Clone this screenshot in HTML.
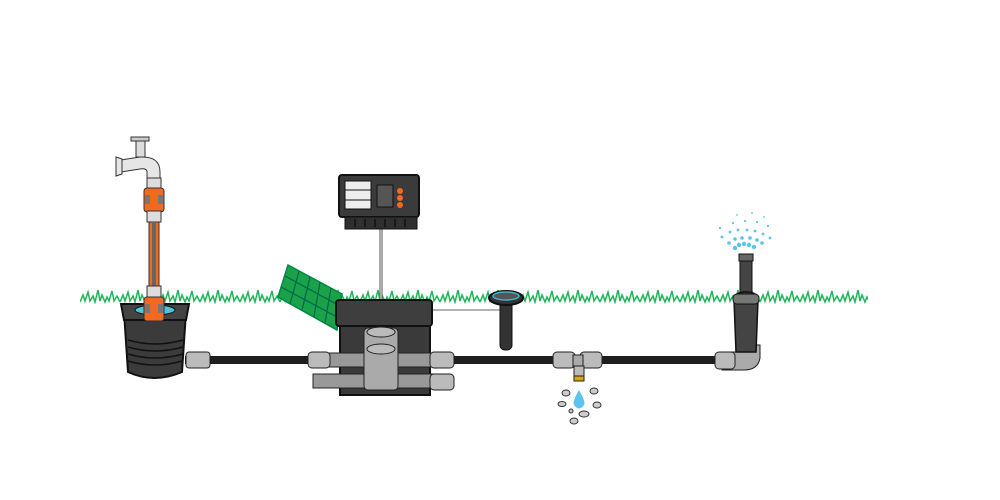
<!DOCTYPE html>
<html><head><meta charset="utf-8"><style>
html,body{margin:0;padding:0;background:#fff;width:1000px;height:500px;overflow:hidden}
svg{display:block}
</style></head><body>
<svg width="1000" height="500" viewBox="0 0 1000 500" xmlns="http://www.w3.org/2000/svg">
<defs>
<pattern id="grass" x="0" y="0" width="40" height="16" patternUnits="userSpaceOnUse">
<path d="M0 14 L3 7 L5 13 L8 4 L10 13 L13 8 L15 14 L18 2 L20 13 L22 7 L25 14 L27 9 L29 13 L32 3 L34 13 L37 8 L40 14" fill="none" stroke="#1fb35a" stroke-width="1.5"/>
</pattern>
</defs>
<!-- grass -->
<rect x="80" y="288" width="788" height="16" fill="url(#grass)"/>
<!-- wires -->
<line x1="381" y1="228" x2="381" y2="302" stroke="#555" stroke-width="3"/>
<line x1="381" y1="228" x2="381" y2="302" stroke="#fff" stroke-width="1"/>
<polyline points="432,310 500,310" fill="none" stroke="#999" stroke-width="1.5"/>
<!-- main pipe -->
<rect x="185" y="356" width="550" height="8" fill="#1e1e1e"/>
<!-- pit -->
<path d="M124 312 L186 312 L182 372 Q154 384 128 372 Z" fill="#3b3b3b" stroke="#111" stroke-width="2"/>
<g stroke="#111" stroke-width="1.5" fill="none">
<path d="M128 340 Q155 348 183 340"/><path d="M128 347 Q155 355 183 347"/><path d="M128 354 Q155 362 183 354"/><path d="M128 361 Q155 369 182 361"/>
</g>
<path d="M121 304 L189 304 L186 320 L124 320 Z" fill="#444" stroke="#111" stroke-width="2"/>
<ellipse cx="155" cy="310" rx="20" ry="5" fill="#4cc4dc" stroke="#111"/>
<!-- tap -->
<rect x="131" y="137" width="18" height="4" fill="#ccc" stroke="#333"/>
<rect x="136" y="141" width="9" height="16" fill="#ddd" stroke="#333"/>
<path d="M121 160 L140 157 Q160 156 160 172 L160 180 L147 180 L147 172 Q147 168 140 169 L121 172 Z" fill="#e6e6e6" stroke="#333"/>
<path d="M116 157 L122 159 L122 174 L116 176 Z" fill="#e6e6e6" stroke="#333"/>
<!-- hose -->
<rect x="147" y="178" width="14" height="12" fill="#ddd" stroke="#333"/>
<rect x="144" y="188" width="20" height="24" rx="3" fill="#f26a21" stroke="#333"/>
<rect x="145" y="195" width="5" height="9" fill="#777"/><rect x="158" y="195" width="5" height="9" fill="#777"/>
<rect x="147" y="211" width="14" height="11" fill="#ddd" stroke="#333"/>
<rect x="149" y="222" width="10" height="66" fill="#f26a21" stroke="#333"/>
<rect x="152" y="222" width="4" height="66" fill="#666"/>
<rect x="147" y="286" width="14" height="12" fill="#ddd" stroke="#333"/>
<rect x="144" y="297" width="20" height="24" rx="3" fill="#f26a21" stroke="#333"/>
<rect x="145" y="304" width="5" height="9" fill="#777"/><rect x="158" y="304" width="5" height="9" fill="#777"/>
<!-- fitting left -->
<rect x="186" y="352" width="24" height="16" rx="3" fill="#bbb" stroke="#222"/>
<!-- controller -->
<rect x="339" y="175" width="80" height="42" rx="3" fill="#3b3b3b" stroke="#111" stroke-width="2"/>
<rect x="345" y="181" width="26" height="28" fill="#eee" stroke="#111"/>
<line x1="345" y1="190" x2="371" y2="190" stroke="#111"/><line x1="345" y1="200" x2="371" y2="200" stroke="#111"/>
<rect x="377" y="185" width="16" height="22" fill="#555" stroke="#111"/>
<circle cx="400" cy="191" r="3" fill="#f26a21"/><circle cx="400" cy="198" r="3" fill="#f26a21"/><circle cx="400" cy="205" r="3" fill="#f26a21"/>
<rect x="345" y="217" width="72" height="12" fill="#2f2f2f" stroke="#111"/>
<g stroke="#111" stroke-width="1.5"><line x1="355" y1="219" x2="355" y2="227"/><line x1="365" y1="219" x2="365" y2="227"/><line x1="375" y1="219" x2="375" y2="227"/><line x1="385" y1="219" x2="385" y2="227"/><line x1="395" y1="219" x2="395" y2="227"/><line x1="405" y1="219" x2="405" y2="227"/></g>
<!-- valve box lid -->
<polygon points="288,265 342,294 337,330 278,297" fill="#1aa24a" stroke="#084" stroke-width="1.5"/>
<g stroke="#064" stroke-width="1.2" fill="none">
<line x1="299" y1="271" x2="290" y2="304"/><line x1="310" y1="277" x2="302" y2="310"/><line x1="320" y1="282" x2="314" y2="317"/><line x1="331" y1="288" x2="325" y2="323"/>
<line x1="285" y1="276" x2="340" y2="306"/><line x1="281" y1="287" x2="339" y2="318"/>
</g>
<!-- valve box -->
<rect x="340" y="322" width="90" height="73" fill="#3a3a3a" stroke="#111" stroke-width="2"/>
<rect x="336" y="300" width="96" height="26" rx="3" fill="#3e3e3e" stroke="#111" stroke-width="2"/>
<rect x="313" y="353" width="130" height="14" fill="#999" stroke="#222"/>
<rect x="313" y="374" width="130" height="14" fill="#999" stroke="#222"/>
<rect x="364" y="328" width="34" height="62" rx="4" fill="#aaa" stroke="#222"/>
<ellipse cx="381" cy="332" rx="14" ry="5" fill="#bbb" stroke="#222"/>
<ellipse cx="381" cy="349" rx="14" ry="5" fill="#bbb" stroke="#222"/>
<rect x="308" y="352" width="22" height="16" rx="4" fill="#bbb" stroke="#222"/>
<rect x="430" y="352" width="24" height="16" rx="4" fill="#bbb" stroke="#222"/>
<rect x="430" y="374" width="24" height="16" rx="4" fill="#bbb" stroke="#222"/>
<!-- sensor -->
<rect x="500" y="298" width="12" height="52" rx="5" fill="#333" stroke="#111"/>
<ellipse cx="506" cy="298" rx="17" ry="7" fill="#333" stroke="#111" stroke-width="2"/>
<ellipse cx="506" cy="296" rx="13" ry="4" fill="#555" stroke="#3bb4cc" stroke-width="1.5"/>
<!-- tee -->
<rect x="553" y="352" width="22" height="16" rx="4" fill="#bbb" stroke="#222"/>
<rect x="580" y="352" width="22" height="16" rx="4" fill="#bbb" stroke="#222"/>
<rect x="573" y="355" width="10" height="12" fill="#aaa" stroke="#222"/>
<rect x="574" y="366" width="10" height="10" fill="#bbb" stroke="#222"/>
<rect x="574" y="376" width="10" height="5" fill="#d8a800" stroke="#222"/>
<!-- drop & stones -->
<path d="M579 390 Q572 402 574 405 Q579 412 584 405 Q586 402 579 390 Z" fill="#5bc3ec"/>
<g fill="#ccc" stroke="#333" stroke-width="1">
<ellipse cx="566" cy="393" rx="4" ry="3"/><ellipse cx="594" cy="391" rx="4" ry="3"/><ellipse cx="562" cy="404" rx="4" ry="2.5"/><ellipse cx="597" cy="405" rx="4" ry="3"/><ellipse cx="571" cy="411" rx="2" ry="2"/><ellipse cx="584" cy="414" rx="5" ry="3"/><ellipse cx="574" cy="421" rx="4" ry="3"/>
</g>
<!-- sprinkler -->
<path d="M722 352 L745 352 Q752 352 752 345 L760 345 L760 358 Q758 370 744 370 L722 370 Z" fill="#aaa" stroke="#222"/>
<rect x="715" y="352" width="20" height="17" rx="4" fill="#bbb" stroke="#222"/>
<rect x="740" y="255" width="12" height="42" fill="#444" stroke="#111"/>
<rect x="739" y="254" width="14" height="7" fill="#666" stroke="#111"/>
<path d="M734 300 Q734 292 746 292 Q758 292 758 300 L756 352 L736 352 Z" fill="#444" stroke="#111" stroke-width="1.5"/>
<rect x="733" y="294" width="26" height="10" rx="4" fill="#777" stroke="#111"/>
<g fill="#5bc3ec">
<circle cx="735" cy="248" r="2.2"/><circle cx="739" cy="245" r="2.2"/><circle cx="744" cy="244" r="2.2"/><circle cx="749" cy="245" r="2.2"/><circle cx="754" cy="247" r="2.2"/>
<circle cx="729" cy="243" r="1.8"/><circle cx="735" cy="239" r="1.8"/><circle cx="742" cy="238" r="1.8"/><circle cx="750" cy="238" r="1.8"/><circle cx="757" cy="240" r="1.8"/><circle cx="762" cy="243" r="1.8"/>
<circle cx="722" cy="237" r="1.4"/><circle cx="730" cy="232" r="1.4"/><circle cx="738" cy="230" r="1.4"/><circle cx="747" cy="230" r="1.4"/><circle cx="755" cy="231" r="1.4"/><circle cx="763" cy="234" r="1.4"/><circle cx="770" cy="238" r="1.4"/>
<circle cx="720" cy="228" r="1.1"/><circle cx="733" cy="223" r="1.1"/><circle cx="745" cy="221" r="1.1"/><circle cx="757" cy="222" r="1.1"/><circle cx="768" cy="226" r="1.1"/>
<circle cx="737" cy="215" r="0.9"/><circle cx="752" cy="213" r="0.9"/><circle cx="764" cy="217" r="0.9"/>
</g>
</svg>
</body></html>
